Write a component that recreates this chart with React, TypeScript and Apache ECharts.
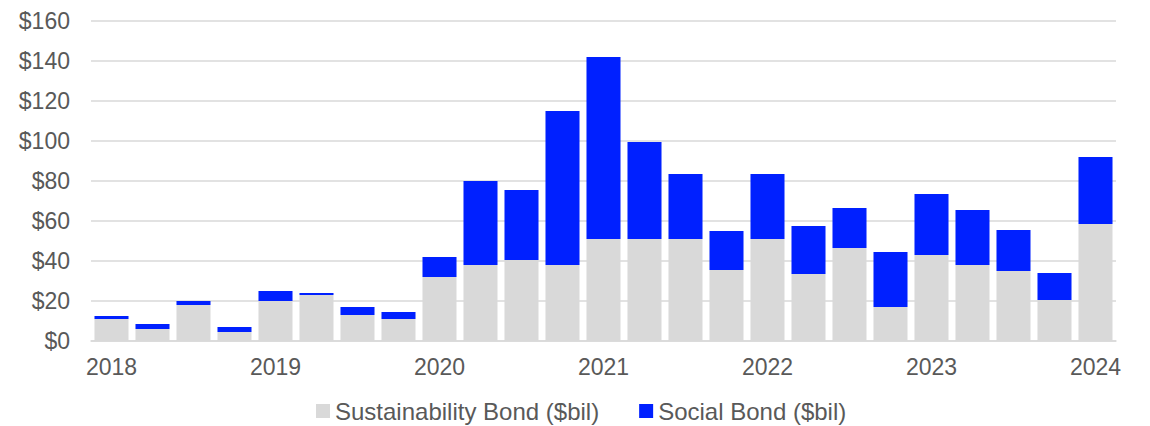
import React, { useEffect, useRef } from "react";
import * as echarts from "echarts";

const categories = [
  "2018Q1", "2018Q2", "2018Q3", "2018Q4",
  "2019Q1", "2019Q2", "2019Q3", "2019Q4",
  "2020Q1", "2020Q2", "2020Q3", "2020Q4",
  "2021Q1", "2021Q2", "2021Q3", "2021Q4",
  "2022Q1", "2022Q2", "2022Q3", "2022Q4",
  "2023Q1", "2023Q2", "2023Q3", "2023Q4",
  "2024Q1",
];

const sustainability = [
  11, 6, 18, 4.5, 20, 23, 13, 11, 32, 38, 40.5, 38, 51, 51, 51, 35.5, 51, 33.5,
  46.5, 17, 43, 38, 35, 20.5, 58.5,
];

const social = [
  1.5, 2.5, 2, 2.5, 5, 1, 4, 3.5, 10, 42, 35, 77, 91, 48.5, 32.5, 19.5, 32.5, 24,
  20, 27.5, 30.5, 27.5, 20.5, 13.5, 33.5,
];

const FONT = "'Liberation Sans', Arial, sans-serif";
const TEXT = "#595959";

export default function App() {
  const ref = useRef<HTMLDivElement>(null);
  useEffect(() => {
    document.body.style.margin = "0";
    const chart = echarts.init(ref.current!, null, { renderer: "svg" });
    chart.setOption({
      animation: false,
      grid: { left: 91, right: 34, top: 21, bottom: 85 },
      legend: {
        left: 311,
        top: 394,
        itemWidth: 14,
        itemHeight: 14,
        itemGap: 40,
        icon: "rect",
        textStyle: { fontFamily: FONT, fontSize: 24, color: TEXT },
        data: ["Sustainability Bond ($bil)", "Social Bond ($bil)"],
      },
      xAxis: {
        type: "category",
        data: categories,
        axisLine: { show: true, lineStyle: { color: "#d9d9d9", width: 1.5 } },
        axisTick: { show: false },
        axisLabel: {
          interval: 3,
          margin: 14,
          fontFamily: FONT,
          fontSize: 23,
          color: TEXT,
          formatter: (v: string) => v.slice(0, 4),
        },
      },
      yAxis: {
        type: "value",
        min: 0,
        max: 160,
        interval: 20,
        axisLine: { show: false },
        axisTick: { show: false },
        splitLine: { lineStyle: { color: "#d9d9d9", width: 1.5 } },
        axisLabel: {
          margin: 21,
          fontFamily: FONT,
          fontSize: 23,
          color: TEXT,
          formatter: (v: number) => "$" + v,
        },
      },
      series: [
        {
          name: "Sustainability Bond ($bil)",
          type: "bar",
          stack: "total",
          data: sustainability,
          barCategoryGap: "17%",
          itemStyle: { color: "#d9d9d9" },
        },
        {
          name: "Social Bond ($bil)",
          type: "bar",
          stack: "total",
          data: social,
          barCategoryGap: "17%",
          itemStyle: { color: "#0020ff" },
        },
      ],
    });
    return () => chart.dispose();
  }, []);
  return <div ref={ref} style={{ width: 1150, height: 426 }} />;
}
